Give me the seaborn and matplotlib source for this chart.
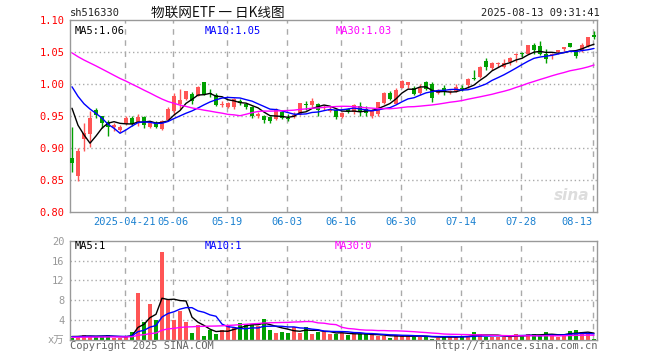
import numpy as np
import pandas as pd
import matplotlib
matplotlib.use('Agg')
import matplotlib.pyplot as plt
import matplotlib.transforms as mtransforms
import seaborn as sns

# trading days shown (Apr 8 .. Aug 13, 2025), holidays removed
holidays = ['2025-05-01', '2025-05-02', '2025-05-05', '2025-06-02']
tick_dates = ['2025-04-21', '2025-05-06', '2025-05-19', '2025-06-03', '2025-06-16',
              '2025-06-30', '2025-07-14', '2025-07-28', '2025-08-13']
tick_labels = ['2025-04-21', '05-06', '05-19', '06-03', '06-16', '06-30', '07-14', '07-28', '08-13']

open_ = [0.885, 0.857, 0.915, 0.922, 0.960, 0.950, 0.941, 0.933, 0.929, 0.938,
         0.947, 0.940, 0.949, 0.933, 0.939, 0.930, 0.945, 0.959, 0.970, 0.977,
         0.985, 0.982, 1.004, 0.987, 0.984, 0.968, 0.965, 0.965, 0.974, 0.969,
         0.965, 0.950, 0.950, 0.949, 0.946, 0.957, 0.948, 0.949, 0.953, 0.970,
         0.968, 0.970, 0.963, 0.958, 0.960, 0.949, 0.961, 0.957, 0.966, 0.961,
         0.950, 0.954, 0.971, 0.987, 0.970, 0.995, 0.999, 0.994, 0.986, 1.003,
         1.000, 0.986, 0.994, 0.988, 0.990, 0.995, 0.999, 1.009, 1.011, 1.037,
         1.026, 1.032, 1.027, 1.035, 1.046, 1.048, 1.048, 1.061, 1.060, 1.048,
         1.046, 1.050, 1.055, 1.065, 1.051, 1.052, 1.060, 1.077]
high = [0.934, 0.900, 0.940, 0.959, 0.963, 0.951, 0.944, 0.940, 0.937, 0.950,
        0.950, 0.953, 0.950, 0.942, 0.942, 0.944, 0.964, 0.986, 0.992, 0.990,
        0.988, 0.998, 1.004, 0.992, 0.987, 0.974, 0.973, 0.979, 0.977, 0.971,
        0.966, 0.956, 0.952, 0.951, 0.963, 0.958, 0.954, 0.957, 0.971, 0.974,
        0.979, 0.971, 0.968, 0.966, 0.962, 0.957, 0.963, 0.969, 0.972, 0.966,
        0.961, 0.973, 0.988, 0.989, 0.995, 1.006, 1.003, 0.997, 1.000, 1.005,
        1.004, 0.992, 0.999, 0.991, 1.000, 0.999, 1.010, 1.023, 1.028, 1.041,
        1.035, 1.035, 1.039, 1.042, 1.049, 1.051, 1.061, 1.064, 1.068, 1.055,
        1.049, 1.054, 1.059, 1.065, 1.053, 1.064, 1.074, 1.084]
low = [0.863, 0.849, 0.896, 0.902, 0.947, 0.932, 0.919, 0.927, 0.925, 0.936,
       0.935, 0.935, 0.932, 0.931, 0.931, 0.929, 0.944, 0.952, 0.962, 0.976,
       0.970, 0.981, 0.984, 0.980, 0.966, 0.964, 0.963, 0.962, 0.968, 0.962,
       0.948, 0.947, 0.939, 0.940, 0.945, 0.946, 0.942, 0.947, 0.952, 0.960,
       0.965, 0.950, 0.960, 0.956, 0.946, 0.947, 0.955, 0.953, 0.951, 0.951,
       0.947, 0.951, 0.969, 0.976, 0.969, 0.994, 0.995, 0.983, 0.984, 0.991,
       0.973, 0.985, 0.983, 0.985, 0.988, 0.990, 0.995, 1.007, 1.010, 1.023,
       1.023, 1.027, 1.025, 1.030, 1.035, 1.042, 1.047, 1.048, 1.046, 1.034,
       1.039, 1.048, 1.052, 1.058, 1.041, 1.051, 1.058, 1.071]
close = [0.877, 0.896, 0.924, 0.947, 0.952, 0.939, 0.934, 0.936, 0.934, 0.948,
         0.938, 0.949, 0.936, 0.940, 0.934, 0.943, 0.961, 0.982, 0.975, 0.990,
         0.974, 0.995, 0.985, 0.985, 0.968, 0.970, 0.971, 0.977, 0.971, 0.964,
         0.951, 0.953, 0.944, 0.943, 0.961, 0.948, 0.946, 0.952, 0.971, 0.968,
         0.974, 0.960, 0.965, 0.962, 0.949, 0.955, 0.958, 0.967, 0.956, 0.955,
         0.959, 0.973, 0.986, 0.977, 0.991, 1.005, 1.003, 0.985, 0.995, 0.992,
         0.978, 0.991, 0.988, 0.990, 0.995, 0.992, 1.009, 1.008, 1.027, 1.027,
         1.034, 1.034, 1.033, 1.041, 1.048, 1.047, 1.061, 1.054, 1.047, 1.040,
         1.048, 1.054, 1.058, 1.059, 1.044, 1.062, 1.074, 1.074]
volume = [0.5, 0.8, 1.0, 0.8, 0.7, 0.7, 1.0, 0.5, 0.5, 0.6,
          1.6, 9.5, 3.6, 7.2, 4.0, 17.8, 8.1, 4.0, 5.8, 3.6,
          1.5, 3.0, 0.8, 2.0, 1.2, 2.0, 2.8, 2.7, 3.5, 3.2,
          3.2, 2.8, 4.3, 2.0, 1.5, 1.6, 1.5, 2.7, 1.5, 2.7,
          1.3, 1.6, 1.6, 1.3, 1.3, 1.5, 1.0, 1.2, 1.2, 1.2,
          1.0, 0.8, 0.8, 0.5, 1.0, 0.8, 0.8, 0.7, 0.7, 0.8,
          0.3, 0.5, 0.7, 0.7, 0.7, 0.7, 0.8, 1.6, 1.2, 0.7,
          0.7, 0.7, 0.7, 0.7, 1.2, 0.8, 1.2, 1.2, 0.8, 1.6,
          1.0, 0.7, 1.2, 1.9, 2.0, 1.6, 1.2, 0.2]

# closes / volumes before the window (estimated, only used to seed the MAs)
prior_close = [1.075, 1.080, 1.085, 1.090, 1.085, 1.080, 1.085, 1.080,
               1.075, 1.080, 1.085, 1.080, 1.075, 1.080, 1.080, 1.077,
               1.065, 1.060, 1.050, 1.045,
               1.045, 1.040, 1.030, 1.020, 1.013,
               1.029, 0.999, 1.012, 0.896]
prior_volume = [0.5, 0.4, 0.5, 0.5, 0.4, 0.5, 0.6, 0.5, 0.4, 0.5,
                0.5, 0.4, 0.5, 0.5, 0.6, 0.5, 0.4, 0.5, 0.5, 0.6,
                0.6, 0.5, 0.6, 0.7, 0.6, 0.7, 0.6, 0.8, 0.9]

price_legend = ['MA5:1.06', 'MA10:1.05', 'MA30:1.03']
vol_legend = ['MA5:1', 'MA10:1', 'MA30:0']

RED = '#ff5555'
GREEN = '#00a000'
GRID = '#aaaaaa'
FRAME = '#999999'

sns.set_style('white')
plt.rcParams['font.family'] = ['DejaVu Sans Mono', 'Noto Sans CJK SC']
plt.rcParams['font.size'] = 7.5


def moving_avgs(prior, values):
    s = pd.Series(prior + values)
    n = len(prior)
    return [s.rolling(w).mean().iloc[n:].to_numpy() for w in (5, 10, 30)]


def main():
    days = pd.bdate_range('2025-04-08', '2025-08-13')
    days = days[~days.isin(pd.to_datetime(holidays))]
    date_str = [d.strftime('%Y-%m-%d') for d in days]
    n = len(date_str)
    idx = np.arange(n)

    df = pd.DataFrame({'x': idx, 'open': open_, 'high': high, 'low': low,
                       'close': close, 'volume': volume})
    df['dir'] = np.where(df['close'] >= df['open'], 'up', 'down')
    colors = np.where(df['dir'] == 'up', RED, GREEN)

    p_ma = moving_avgs(prior_close, close)
    v_ma = moving_avgs(prior_volume, volume)
    ma_colors = ['black', '#0000ff', '#ff00ff']

    fig = plt.figure(figsize=(6.6, 3.6), dpi=100)
    ax = fig.add_axes([70 / 660, 1 - 212.3 / 360, 527 / 660, 192 / 360])
    axv = fig.add_axes([70 / 660, 1 - 340 / 360, 527 / 660, 99.3 / 360])

    xlim = (-1 / 3, 87.5)
    grid_x = [date_str.index(d) - 0.25 for d in tick_dates]

    # ---- price panel ----
    for y in [0.85, 0.90, 0.95, 1.00, 1.05]:
        ax.axhline(y, color=GRID, lw=1, ls=(0, (1, 2)), zorder=0)
    for gx in grid_x:
        ax.axvline(gx, color=GRID, lw=1, ls=(0, (4, 4)), zorder=0)

    ax.vlines(df['x'], df['low'], df['high'], colors=colors, lw=1, zorder=2)
    body_lo = np.minimum(df['open'], df['close'])
    body_h = np.maximum(np.abs(df['close'] - df['open']), 0.0018)
    ax.bar(df['x'], body_h, bottom=body_lo, width=0.83, color=colors, lw=0, zorder=3)

    for ma, c in zip(p_ma, ma_colors):
        sns.lineplot(x=idx, y=ma, color=c, lw=1, ax=ax, zorder=4)

    ax.set_xlim(*xlim)
    ax.set_ylim(0.80, 1.10)
    ax.set_yticks(np.round(np.arange(0.80, 1.101, 0.05), 2))
    ax.set_yticklabels([f'{v:.2f}' for v in ax.get_yticks()], color='#ff0000')
    ax.set_xticks([])
    ax.tick_params(axis='y', length=0, pad=4)
    for sp in ax.spines.values():
        sp.set_color(FRAME)
        sp.set_linewidth(1)

    for txt, c, xp in zip(price_legend, ma_colors, [75, 205, 336]):
        ax.text((xp - 70) / 527, 0.944, txt, color=c, transform=ax.transAxes,
                ha='left', va='center')

    trans = mtransforms.blended_transform_factory(ax.transData, ax.transAxes)
    for i, (gx, lab) in enumerate(zip(grid_x, tick_labels)):
        ha = 'right' if i == len(tick_labels) - 1 else 'center'
        ax.text(gx, -0.05, lab, color='#1a80d0', transform=trans, ha=ha, va='center',
                clip_on=False)

    ax.text(0.985, 0.09, 'sina', color='#dddddd', fontsize=11, fontstyle='italic',
            fontweight='bold', fontfamily='DejaVu Sans', transform=ax.transAxes,
            ha='right', va='center')

    # ---- volume panel ----
    for y in [4, 8, 12, 16]:
        axv.axhline(y, color=GRID, lw=1, ls=(0, (1, 2)), zorder=0)
    for gx in grid_x:
        axv.axvline(gx, color=GRID, lw=1, ls=(0, (4, 4)), zorder=0)

    sns.barplot(data=df, x='x', y='volume', hue='dir', palette={'up': RED, 'down': GREEN},
                native_scale=True, dodge=False, width=0.83, saturation=1, errorbar=None,
                linewidth=0, legend=False, ax=axv, zorder=2)
    for ma, c in zip(v_ma, ma_colors):
        sns.lineplot(x=idx, y=ma, color=c, lw=1, ax=axv, zorder=4)

    axv.set_xlim(*xlim)
    axv.set_ylim(0, 20)
    axv.set_yticks([0, 4, 8, 12, 16, 20])
    axv.set_yticklabels(['x万', '4', '8', '12', '16', '20'], color=FRAME)
    axv.set_xticks([])
    axv.set_xlabel('')
    axv.set_ylabel('')
    axv.tick_params(axis='y', length=0, pad=4)
    for sp in axv.spines.values():
        sp.set_color(FRAME)
        sp.set_linewidth(1)

    for txt, c, xp in zip(vol_legend, ma_colors, [75, 205, 335]):
        axv.text((xp - 70) / 527, 0.947, txt, color=c, transform=axv.transAxes,
                 ha='left', va='center')

    # ---- header / footer ----
    fig.text(70 / 660, 1 - 13 / 360, 'sh516330', ha='left', va='center', color='#222222')
    fig.text(151 / 660, 1 - 13 / 360, '物联网ETF 一 日K线图', ha='left', va='center',
             fontsize=9.8, family=['Noto Sans CJK SC', 'DejaVu Sans'], color='#111111')
    fig.text(600 / 660, 1 - 13 / 360, '2025-08-13 09:31:41', ha='right', va='center',
             color='#222222')
    fig.text(70 / 660, 1 - 346 / 360, 'Copyright 2025 SINA.COM', ha='left', va='center',
             color='#666666')
    fig.text(597 / 660, 1 - 346 / 360, 'http://finance.sina.com.cn', ha='right',
             va='center', color='#666666')

    fig.savefig('out.png', dpi=100, facecolor='white')
    plt.close(fig)


if __name__ == '__main__':
    main()
